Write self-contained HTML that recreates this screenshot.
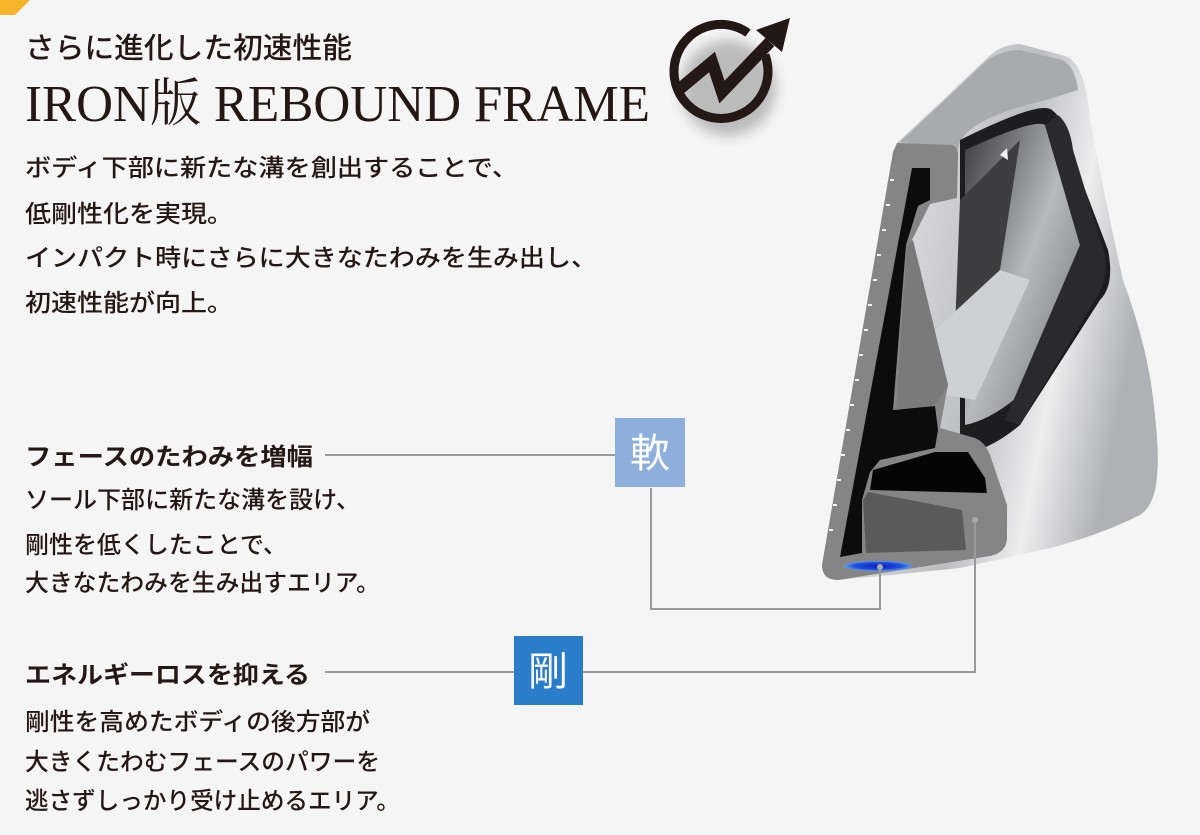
<!DOCTYPE html>
<html><head><meta charset="utf-8"><style>
html,body{margin:0;padding:0;background:#f5f5f5;}
svg{display:block}
.j{font-family:"Liberation Sans","Noto Sans CJK JP",sans-serif;fill:#231815;font-weight:500;}
</style></head><body>
<svg width="1200" height="835" viewBox="0 0 1200 835" xmlns="http://www.w3.org/2000/svg">
<defs>
<linearGradient id="silver" x1="0" y1="0" x2="1" y2="0.3">
<stop offset="0" stop-color="#8a8a8c"/><stop offset="0.35" stop-color="#d6d6d8"/><stop offset="0.6" stop-color="#bcbdc0"/><stop offset="0.8" stop-color="#ededee"/><stop offset="1" stop-color="#b0b1b4"/>
</linearGradient>
<linearGradient id="inner" x1="0" y1="0" x2="1" y2="1">
<stop offset="0" stop-color="#3a3a3c"/><stop offset="0.5" stop-color="#b8b9bc"/><stop offset="1" stop-color="#6a6a6c"/>
</linearGradient>
<filter id="blur"><feGaussianBlur stdDeviation="6"/></filter>
<radialGradient id="blue"><stop offset="0" stop-color="#0a1fb8"/><stop offset="0.7" stop-color="#1f4fe0"/><stop offset="1" stop-color="#5aa0f0"/></radialGradient>
</defs>
<rect width="1200" height="835" fill="#f5f5f5"/>
<polygon points="0,0 30,0 15,15 0,15" fill="#f7b52c"/>

<text class="j" x="25" y="58" font-size="29" textLength="327" lengthAdjust="spacingAndGlyphs">さらに進化した初速性能</text>
<text x="25" y="121" font-family="'Liberation Serif','Noto Serif CJK SC',serif" font-size="52" fill="#231815" textLength="625" lengthAdjust="spacingAndGlyphs">IRON版 REBOUND FRAME</text>

<ellipse cx="728" cy="88" rx="48" ry="48" fill="#777" opacity="0.45" filter="url(#blur)"/>
<path d="M748,33 A47,47 0 1 0 765,55" fill="none" stroke="#231815" stroke-width="9"/>
<polyline points="676,92 712,62 722,92 770,42" fill="none" stroke="#231815" stroke-width="12" stroke-linejoin="miter"/>
<polygon points="790,18 782,52 756,30" fill="#231815"/>

<g font-size="24">
<text class="j" x="25" y="176" textLength="493" lengthAdjust="spacingAndGlyphs">ボディ下部に新たな溝を創出することで、</text>
<text class="j" x="25" y="222" textLength="208" lengthAdjust="spacingAndGlyphs">低剛性化を実現。</text>
<text class="j" x="25" y="266" textLength="572" lengthAdjust="spacingAndGlyphs">インパクト時にさらに大きなたわみを生み出し、</text>
<text class="j" x="25" y="311" textLength="208" lengthAdjust="spacingAndGlyphs">初速性能が向上。</text>

<text class="j" x="25" y="465" font-weight="bold" style="font-weight:bold" textLength="288" lengthAdjust="spacingAndGlyphs">フェースのたわみを増幅</text>
<text class="j" x="25" y="508" textLength="335" lengthAdjust="spacingAndGlyphs">ソール下部に新たな溝を設け、</text>
<text class="j" x="25" y="553" textLength="262" lengthAdjust="spacingAndGlyphs">剛性を低くしたことで、</text>
<text class="j" x="25" y="591" textLength="355" lengthAdjust="spacingAndGlyphs">大きなたわみを生み出すエリア。</text>

<text class="j" x="25" y="683" style="font-weight:bold" textLength="285" lengthAdjust="spacingAndGlyphs">エネルギーロスを抑える</text>
<text class="j" x="25" y="730" textLength="345" lengthAdjust="spacingAndGlyphs">剛性を高めたボディの後方部が</text>
<text class="j" x="25" y="770" textLength="355" lengthAdjust="spacingAndGlyphs">大きくたわむフェースのパワーを</text>
<text class="j" x="25" y="809" textLength="375" lengthAdjust="spacingAndGlyphs">逃さずしっかり受け止めるエリア。</text>
</g>

<path d="M897,143 L985,60 Q1000,44 1020,44 L1065,56 Q1085,62 1090,119 Q1105,200 1123,280 Q1145,340 1152,390 Q1160,450 1157,476 Q1155,505 1140,515 Q1100,535 1050,548 L960,568 L840,580 L822,566 Z" fill="url(#silver)"/>
<path d="M900,142 L985,62 Q1000,50 1020,50 L1062,60 Q1075,66 1078,90 L1046,100 Q960,120 958,150 Z" fill="#a9aaac"/>
<path d="M960,140 Q1040,100 1052,110 Q1065,120 1070,150 L1108,250 Q1115,285 1100,300 L1020,425 Q990,450 960,455 Z" fill="#1d1d1f"/>
<path d="M965,150 Q1035,118 1045,125 L1080,245 L1020,395 Q990,420 965,425 Z" fill="url(#inner)"/>
<path d="M960,200 L1020,140 L1000,270 L955,330 Z" fill="#3e3e40"/>
<path d="M935,330 L1000,270 L1030,280 L975,400 L945,395 Z" fill="#cfd0d3"/>
<path d="M1080,245 L1045,125 L1058,115 Q1070,125 1073,150 L1105,255 Q1108,282 1095,300 L1020,425 L1005,420 Z" fill="#2a2a2c"/>
<polygon points="1000,155 1007,148 1008,160" fill="#f0f0f0"/>

<path d="M897,143 L952,145 Q958,147 958,155 L957,198 L930,204 L912,240 L948,385 L940,428 L975,438 Q985,442 990,455 L1007,505 L1007,540 Q1005,553 990,556 L838,580 Q822,580 822,565 L893,152 Z" fill="#858586"/>
<path d="M912,168 L930,168 L930,200 L918,206 L906,245 L893,410 L935,406 L938,430 L935,448 L880,460 L870,472 L862,500 L862,553 L840,557 Z" fill="#0c0c0c"/>
<path d="M907,246 L913,240 L948,385 L935,405 L896,410 Z" fill="#7a7a7b"/>
<path d="M873,470 L935,452 L968,452 L985,478 L987,493 L870,490 Z" fill="#050505"/>
<path d="M863,500 L868,492 L962,510 L966,550 L866,553 Z" fill="#5a5a5b"/>
<g stroke="#f2f2f2" stroke-width="2">
<line x1="890" y1="180" x2="894" y2="180"/><line x1="886" y1="205" x2="890" y2="205"/><line x1="882" y1="230" x2="886" y2="230"/><line x1="877" y1="255" x2="881" y2="255"/><line x1="873" y1="280" x2="877" y2="280"/><line x1="868" y1="305" x2="872" y2="305"/><line x1="864" y1="330" x2="868" y2="330"/><line x1="859" y1="355" x2="863" y2="355"/><line x1="855" y1="380" x2="859" y2="380"/><line x1="850" y1="405" x2="854" y2="405"/><line x1="846" y1="430" x2="850" y2="430"/><line x1="841" y1="455" x2="845" y2="455"/><line x1="837" y1="480" x2="841" y2="480"/><line x1="833" y1="505" x2="837" y2="505"/><line x1="829" y1="530" x2="833" y2="530"/>
</g>
<ellipse cx="878" cy="566" rx="34" ry="5" fill="url(#blue)"/>

<g stroke="#9a9a9a" stroke-width="2" fill="none">
<line x1="325" y1="455" x2="615" y2="455"/>
<polyline points="651,488 651,609 880,609 880,567"/>
<line x1="325" y1="672" x2="515" y2="672"/>
<polyline points="583,672 975,672 975,520"/>
</g>
<circle cx="880" cy="567" r="3" fill="#aaa"/>
<circle cx="975" cy="520" r="3" fill="#aaa"/>

<rect x="615" y="418" width="70" height="69" fill="#8eafdc"/>
<text x="650" y="467" font-family="'Liberation Sans','Noto Sans CJK JP',sans-serif" font-size="40" fill="#fff" text-anchor="middle">軟</text>
<rect x="514" y="636" width="69" height="69" fill="#2a7dc9"/>
<text x="548" y="685" font-family="'Liberation Sans','Noto Sans CJK JP',sans-serif" font-size="40" fill="#fff" text-anchor="middle">剛</text>
</svg>
</body></html>
